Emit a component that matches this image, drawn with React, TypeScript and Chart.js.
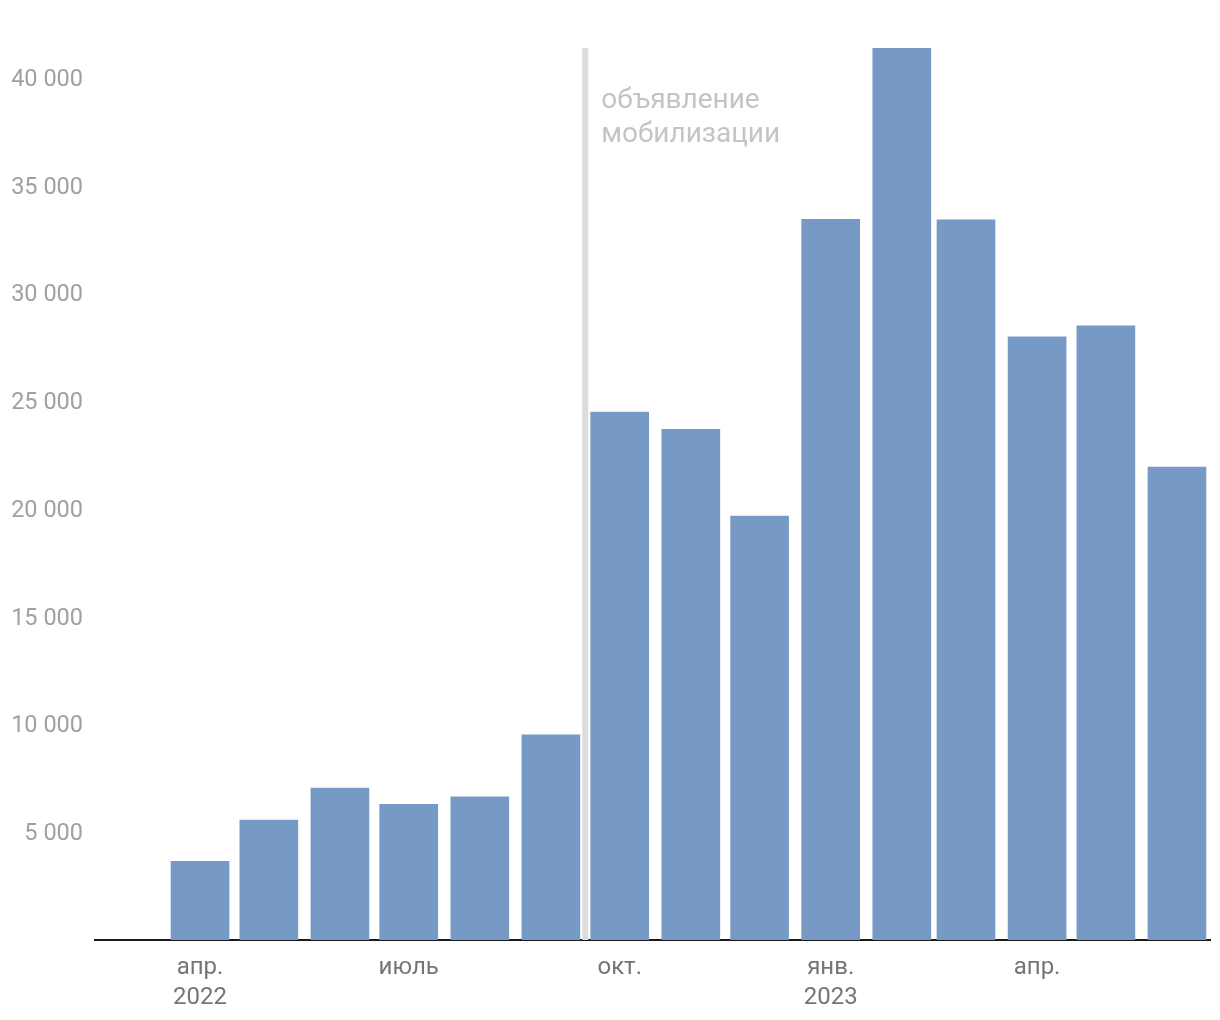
import React, { useEffect, useRef } from "react";
import { Chart, registerables } from "chart.js";

Chart.register(...registerables);

// Months (first day of each month) and values
const months: string[] = [
  "2022-04-01", "2022-05-01", "2022-06-01", "2022-07-01", "2022-08-01",
  "2022-09-01", "2022-10-01", "2022-11-01", "2022-12-01", "2023-01-01",
  "2023-02-01", "2023-03-01", "2023-04-01", "2023-05-01", "2023-06-01",
];
const values: number[] = [
  3650, 5570, 7050, 6300, 6640, 9520, 24500, 23700, 19680, 33450,
  41400, 33420, 27990, 28500, 21950,
];
const tickDates: string[] = ["2022-04-01", "2022-07-01", "2022-10-01", "2023-01-01", "2023-04-01"];
const tickLabels: string[][] = [["апр.", "2022"], ["июль"], ["окт."], ["янв.", "2023"], ["апр."]];
const yTicks: number[] = [5000, 10000, 15000, 20000, 25000, 30000, 35000, 40000];
const mobilizationDate = "2022-09-16";
const mobilizationLabel: string[] = ["объявление", "мобилизации"];

const ORIGIN = Date.UTC(2022, 3, 1);
const dayOf = (s: string) => {
  const [y, m, d] = s.split("-").map(Number);
  return (Date.UTC(y, m - 1, d) - ORIGIN) / 86400000;
};

export default function App() {
  const ref = useRef<HTMLCanvasElement | null>(null);
  useEffect(() => {
    document.body.style.margin = "0";
    const canvas = ref.current!;
    const tickDays = tickDates.map(dayOf);
    const lineDay = dayOf(mobilizationDate);

    const mobPlugin = {
      id: "mob",
      beforeDatasetsDraw(chart: any) {
        const { ctx, chartArea, scales } = chart;
        const x = scales.x.getPixelForValue(lineDay);
        ctx.save();
        ctx.fillStyle = "#dcdcdc";
        ctx.fillRect(x - 3, chartArea.top, 6, chartArea.bottom - chartArea.top);
        ctx.fillStyle = "#c4c4c4";
        ctx.font = "28px Roboto";
        ctx.textAlign = "left";
        ctx.textBaseline = "alphabetic";
        mobilizationLabel.forEach((t, i) => {
          ctx.fillText(t, x + 16, chartArea.top + 60 + i * 34);
        });
        ctx.restore();
      },
    };

    const chart = new Chart(canvas, {
      type: "bar",
      data: {
        datasets: [
          {
            data: months.map((m, i) => ({ x: dayOf(m), y: values[i] })),
            backgroundColor: "#7799c6",
            barThickness: 58,
          } as any,
        ],
      },
      options: {
        animation: false,
        responsive: false,
        maintainAspectRatio: false,
        layout: { padding: { top: 48, right: 10, left: 0, bottom: 0 } },
        plugins: { legend: { display: false }, tooltip: { enabled: false } },
        scales: {
          x: {
            type: "linear",
            min: -45.8,
            max: 440.4,
            offset: false,
            grid: { display: false, drawTicks: false },
            border: { display: true, color: "#1a1a1a", width: 2 },
            afterBuildTicks: (scale: any) => {
              scale.ticks = tickDays.map((v) => ({ value: v }));
            },
            afterFit: (scale: any) => {
              scale.height = 80;
            },
            ticks: {
              autoSkip: false,
              maxRotation: 0,
              padding: 13,
              color: "#757575",
              font: { family: "Roboto", size: 24, lineHeight: 1.25 },
              callback: (_v: any, i: number) => tickLabels[i],
            },
          },
          y: {
            min: 0,
            max: 41400,
            grid: { display: false, drawTicks: false },
            border: { display: false },
            afterBuildTicks: (scale: any) => {
              scale.ticks = yTicks.map((v) => ({ value: v }));
            },
            afterFit: (scale: any) => {
              scale.width = 95;
            },
            ticks: {
              padding: 12,
              labelOffset: 2,
              color: "#a0a0a0",
              font: { family: "Roboto", size: 23.5 },
              callback: (v: any) => String(v).replace(/\B(?=(\d{3})+(?!\d))/g, " "),
            },
          },
        },
      } as any,
      plugins: [mobPlugin],
    });
    return () => chart.destroy();
  }, []);
  return <canvas ref={ref} width={1220} height={1020} style={{ display: "block" }} />;
}
